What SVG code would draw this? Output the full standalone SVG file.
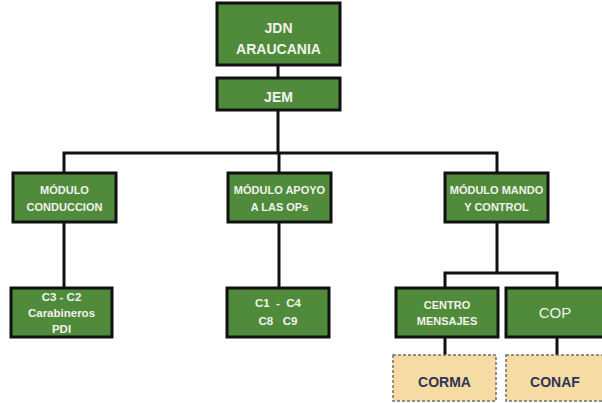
<svg xmlns="http://www.w3.org/2000/svg" width="602" height="403" viewBox="0 0 602 403">
  <style>
    .box { fill: #4f8b3b; stroke: #111; stroke-width: 3; }
    .ext { fill: #f6dba4; stroke: #6f6f6f; stroke-width: 1.5; stroke-dasharray: 3 2; }
    .wt { fill: #f2f2ec; font-family: "Liberation Sans", Arial, sans-serif; font-weight: bold; text-anchor: middle; dominant-baseline: central; white-space: pre; }
    .big { font-size: 14px; }
    .sm { font-size: 11px; }
    .md { font-size: 11.5px; }
    .thin { font-weight: normal; font-size: 15px; }
    .nv { fill: #2e3553; font-family: "Liberation Sans", Arial, sans-serif; font-weight: bold; font-size: 14px; text-anchor: middle; dominant-baseline: central; }
    .ln { fill: none; stroke: #111; stroke-width: 3; }
  </style>
  <rect width="602" height="403" fill="#ffffff"/>

  <g id="connectors">
    <path class="ln" d="M278 65 V78"/>
    <path class="ln" d="M278 110 V153"/>
    <path class="ln" d="M64 173 V153 H497 V173"/>
    <path class="ln" d="M279 153 V173"/>
    <path class="ln" d="M64 222 V288"/>
    <path class="ln" d="M279 222 V288"/>
    <path class="ln" d="M497 222 V273"/>
    <path class="ln" d="M445 288 V273 H557 V288"/>
    <path class="ln" d="M445 337 V355"/>
    <path class="ln" d="M557 337 V355"/>
  </g>

  <g id="jdn">
    <rect class="box" x="217" y="3" width="123" height="62"/>
    <text class="wt big" x="278.5" y="28">JDN</text>
    <text class="wt big" x="278.5" y="49">ARAUCANIA</text>
  </g>

  <g id="jem">
    <rect class="box" x="217" y="78" width="123" height="32"/>
    <text class="wt big" x="278.5" y="97">JEM</text>
  </g>

  <g id="modulo-conduccion">
    <rect class="box" x="13" y="173" width="103" height="49"/>
    <text class="wt sm" x="64.5" y="190">MÓDULO</text>
    <text class="wt sm" x="64.5" y="207">CONDUCCION</text>
  </g>

  <g id="modulo-apoyo">
    <rect class="box" x="228" y="173" width="103" height="49"/>
    <text class="wt sm" x="279.5" y="190">MÓDULO APOYO</text>
    <text class="wt sm" x="279.5" y="207">A LAS OPs</text>
  </g>

  <g id="modulo-mando">
    <rect class="box" x="445" y="173" width="103" height="49"/>
    <text class="wt sm" x="496.5" y="190">MÓDULO MANDO</text>
    <text class="wt sm" x="496.5" y="207">Y CONTROL</text>
  </g>

  <g id="c3-c2">
    <rect class="box" x="11" y="288" width="101" height="49"/>
    <text class="wt md" x="61.5" y="297">C3 - C2</text>
    <text class="wt md" x="61.5" y="313">Carabineros</text>
    <text class="wt md" x="61.5" y="329">PDI</text>
  </g>

  <g id="c1-c4">
    <rect class="box" x="227" y="288" width="102" height="49"/>
    <text class="wt md" x="278" y="303">C1  -  C4</text>
    <text class="wt md" x="278" y="321">C8   C9</text>
  </g>

  <g id="centro-mensajes">
    <rect class="box" x="396" y="288" width="102" height="49"/>
    <text class="wt sm" x="447" y="305">CENTRO</text>
    <text class="wt sm" x="447" y="321">MENSAJES</text>
  </g>

  <g id="cop">
    <rect class="box" x="506" y="288" width="100" height="49"/>
    <text class="wt thin" x="555" y="312">COP</text>
  </g>

  <g id="corma">
    <rect class="ext" x="393" y="355" width="103" height="46"/>
    <text class="nv" x="444.5" y="382">CORMA</text>
  </g>

  <g id="conaf">
    <rect class="ext" x="506" y="355" width="100" height="46"/>
    <text class="nv" x="555" y="382">CONAF</text>
  </g>
</svg>
